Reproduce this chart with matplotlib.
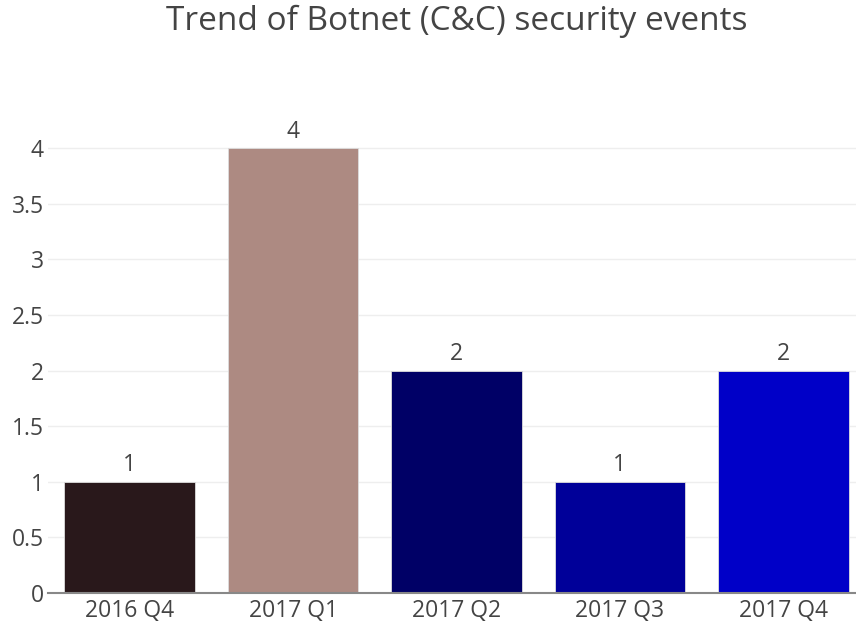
import matplotlib
matplotlib.use("Agg")
import matplotlib.pyplot as plt

categories = ["2016 Q4", "2017 Q1", "2017 Q2", "2017 Q3", "2017 Q4"]
values = [1, 4, 2, 1, 2]
colors = ["#29181b", "#ad8a82", "#000066", "#000099", "#0000c8"]
yticks = [0, 0.5, 1, 1.5, 2, 2.5, 3, 3.5, 4]
yticklabels = ["0", "0.5", "1", "1.5", "2", "2.5", "3", "3.5", "4"]

plt.rcParams['font.family'] = ['Open Sans', 'DejaVu Sans']
W, H = 856, 629
fig = plt.figure(figsize=(W/100, H/100), dpi=100)
left, right = 48, 856
y0, ytop = 593, 126
ax = fig.add_axes([left/W, 1 - y0/H, (right-left)/W, (y0-ytop)/H])
x = list(range(len(categories)))
ax.bar(x, values, width=0.8, color=colors, edgecolor="#dddddd", linewidth=0.6, zorder=3)
for xi, v in zip(x, values):
    ax.text(xi, v + 0.04, str(v), ha="center", va="bottom", fontsize=16.5, color="#444444")
ax.set_xlim(-0.5, 4.5 - (865-856)/163.5)
ax.set_ylim(0, (y0-ytop)/111.25)
ax.set_yticks(yticks)
ax.set_yticklabels(yticklabels)
ax.set_xticks(x)
ax.set_xticklabels(categories)
ax.grid(axis="y", color="#eeeeee", linewidth=1, zorder=0)
for s in ["top", "right", "left"]:
    ax.spines[s].set_visible(False)
ax.spines["bottom"].set_color("#888888")
ax.spines["bottom"].set_linewidth(1.5)
ax.spines["bottom"].set_zorder(4)
ax.tick_params(axis="y", length=0, labelsize=16.5, labelcolor="#444444", pad=3)
ax.tick_params(axis="x", length=0, labelsize=16.5, labelcolor="#444444", pad=4)
fig.text(457/W, 1 - 21/H, "Trend of Botnet (C&C) security events", ha="center", va="center",
         fontsize=24, color="#444444")
fig.savefig("out.png", dpi=100)
